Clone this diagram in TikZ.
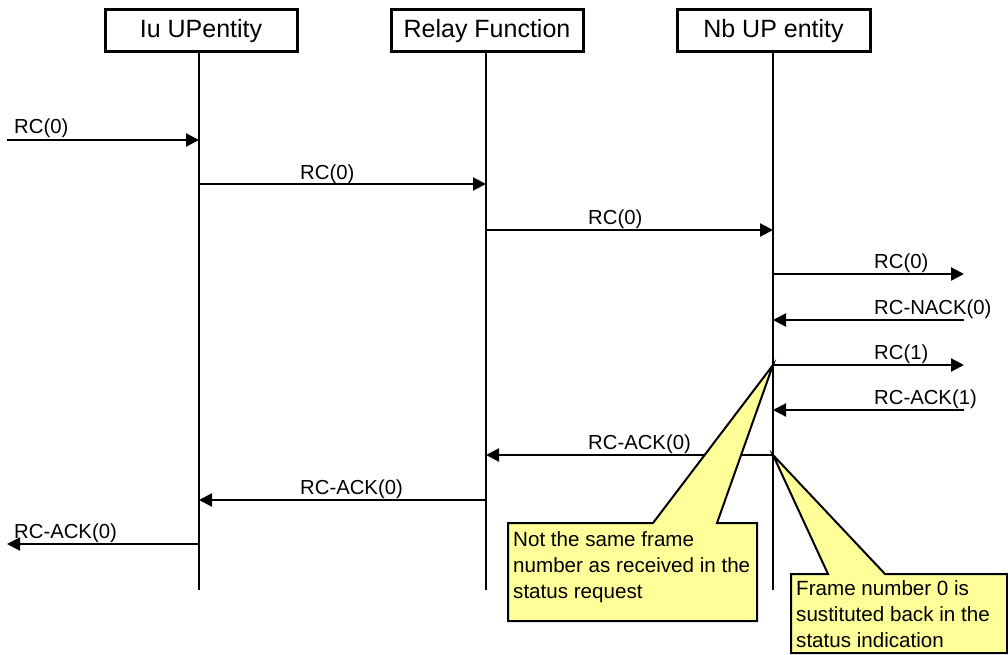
\documentclass[tikz,border=0pt]{standalone}
\usepackage{fontspec}
\setmainfont{Liberation Sans}
\usetikzlibrary{arrows.meta}
\definecolor{calloutyellow}{HTML}{FFFF99}
\tikzset{
  entity/.style={draw=black, line width=3pt, fill=white, minimum height=42pt, inner sep=0pt, font=\fontsize{25}{30}\selectfont},
  lifeline/.style={line width=2.2pt},
  msg/.style={line width=2.2pt, -{Triangle[length=13pt,width=13pt]}},
  msglabel/.style={anchor=base west, inner sep=0pt, font=\fontsize{20.3}{24}\selectfont},
  callout/.style={draw=black, line width=2pt, fill=calloutyellow, line join=miter},
  callouttext/.style={anchor=north west, inner sep=0pt, align=left, font=\fontsize{20.6}{26.3}\selectfont}
}
\begin{document}
\begin{tikzpicture}[x=1pt, y=-1pt]
\useasboundingbox (0,0) rectangle (1008,655);
% entities
\node[entity, minimum width=192pt] (iu) at (201,31) {Iu UPentity};
\node[entity, minimum width=192pt] (relay) at (487,31) {Relay Function};
\node[entity, minimum width=193pt] (nb) at (773.5,31) {Nb UP entity};
% lifeline ends
\coordinate (iuEnd) at (199,590);
\coordinate (relayEnd) at (486,590);
\coordinate (nbEnd) at (773,590);
\draw[lifeline] (iu.south -| iuEnd) -- (iuEnd);
\draw[lifeline] (relay.south -| relayEnd) -- (relayEnd);
\draw[lifeline] (nb.south -| nbEnd) -- (nbEnd);
% message end points
\coordinate (m1a) at (7,140);    \coordinate (m1b) at (199,140);
\coordinate (m2a) at (199,184);  \coordinate (m2b) at (486,184);
\coordinate (m3a) at (486,230);  \coordinate (m3b) at (773,230);
\coordinate (m4a) at (773,274);  \coordinate (m4b) at (964,274);
\coordinate (m5a) at (964,320);  \coordinate (m5b) at (773,320);
\coordinate (m6a) at (773,365);  \coordinate (m6b) at (964,365);
\coordinate (m7a) at (964,410);  \coordinate (m7b) at (773,410);
\coordinate (m8a) at (773,455);  \coordinate (m8b) at (486,455);
\coordinate (m9a) at (486,500);  \coordinate (m9b) at (199,500);
\coordinate (m10a) at (199,544); \coordinate (m10b) at (7,544);
\draw[msg] (m1a) -- (m1b);
\draw[msg] (m2a) -- (m2b);
\draw[msg] (m3a) -- (m3b);
\draw[msg] (m4a) -- (m4b);
\draw[msg] (m5a) -- (m5b);
\draw[msg] (m6a) -- (m6b);
\draw[msg] (m7a) -- (m7b);
\draw[msg] (m8a) -- (m8b);
\draw[msg] (m9a) -- (m9b);
\draw[msg] (m10a) -- (m10b);
% labels
\node[msglabel] (l1) at (14,134) {RC(0)};
\node[msglabel] (l2) at (300,179) {RC(0)};
\node[msglabel] (l3) at (588,224) {RC(0)};
\node[msglabel] (l4) at (874,268) {RC(0)};
\node[msglabel] (l5) at (874,314) {RC-NACK(0)};
\node[msglabel] (l6) at (874,359) {RC(1)};
\node[msglabel] (l7) at (874,404) {RC-ACK(1)};
\node[msglabel] (l8) at (588,449) {RC-ACK(0)};
\node[msglabel] (l9) at (300,494) {RC-ACK(0)};
\node[msglabel] (l10) at (14,538) {RC-ACK(0)};
% callouts
\draw[callout] (508,523) -- (653,523) -- (m6a) -- (717,523) -- (757,523) -- (757,621) -- (508,621) -- cycle;
\node[callouttext] (c1) at (513,531) {Not the same frame\\number as received in the\\status request};
\draw[callout] (791,574) -- (828,574) -- (m8a) -- (885,574) -- (1007,574) -- (1007,653) -- (791,653) -- cycle;
\node[callouttext] (c2) at (796,580) {Frame number 0 is\\sustituted back in the\\status indication};
\end{tikzpicture}
\end{document}
